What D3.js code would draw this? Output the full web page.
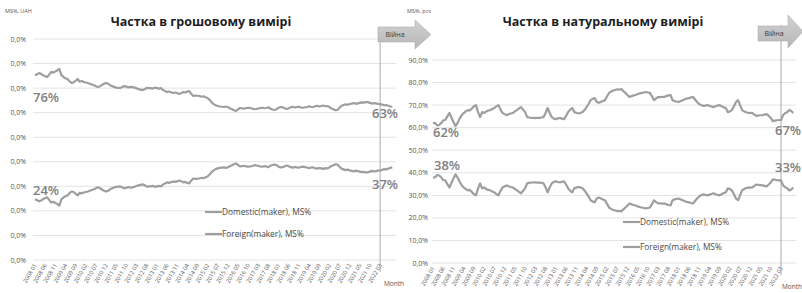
<!DOCTYPE html>
<html>
<head>
<meta charset="utf-8" />
<title>Частка вітчизняних та іноземних виробників</title>
<script src="https://d3js.org/d3.v7.min.js"></script>
<style>
  body { margin: 0; background: #fff; }
  svg { display: block; font-family: "Open Sans", sans-serif; }
</style>
</head>
<body>
<svg id="chart" width="802" height="293"></svg>
<script>
// months 2008 01 .. 2022 09
var months = d3.timeMonth.range(new Date(2008, 0, 1), new Date(2022, 9, 1)).map(d3.timeFormat("%Y %m"));

var tickLabels = ["2008 01","2008 06","2008 11","2009 04","2009 09","2010 02","2010 07","2010 12",
  "2011 05","2011 10","2012 03","2012 08","2013 01","2013 06","2013 11","2014 04","2014 09",
  "2015 02","2015 07","2015 12","2016 05","2016 10","2017 03","2017 08","2018 01","2018 06",
  "2018 11","2019 04","2019 09","2020 02","2020 07","2020 12","2021 05","2021 10","2022 03"];

var yTicks = [0, 10, 20, 30, 40, 50, 60, 70, 80, 90];
// the money chart shows broken labels in the source
var moneyYLabels = ["0,0%","0,0%","0,0%","0,0%","0,0%","0,0%","0,0%","0,0%","0,0%","0,0%"];
var unitsYLabels = ["0,0%","10,0%","20,0%","30,0%","40,0%","50,0%","60,0%","70,0%","80,0%","90,0%"];

var seriesNames = ["Domestic(maker), MS%", "Foreign(maker), MS%"];
var warMonth = "2022 03";
var warLabel = "Війна";

// share in money terms, %
var moneyDomestic = [
  75.3,75.6,76.1,75.8,75.2,74.8,74.5,75.5,76.6,76.3,
  76.8,77.2,77.8,75.3,74.6,74.0,73.7,72.8,72.1,72.3,
  73.0,73.7,72.6,72.9,72.5,72.3,72.1,71.8,71.5,71.2,
  70.8,70.4,70.8,71.3,71.8,72.1,71.8,71.2,70.8,70.5,
  70.2,70.1,70.0,70.5,70.8,70.6,70.3,70.5,70.4,70.2,
  69.9,69.6,69.4,69.2,69.5,70.1,70.0,70.0,69.8,70.2,
  70.0,69.8,70.0,69.3,68.8,68.4,68.6,68.3,68.0,68.2,
  68.0,67.6,67.9,68.4,68.2,68.6,68.8,67.6,66.8,67.0,
  66.9,66.8,66.5,66.7,66.3,66.0,65.2,64.2,63.5,63.0,
  62.7,62.5,62.4,62.3,62.5,62.2,61.8,61.4,61.0,60.7,
  61.3,61.9,61.8,61.6,61.9,62.0,61.9,61.7,61.4,61.5,
  61.7,61.9,62.0,61.8,61.9,62.2,61.6,61.3,61.1,61.4,
  62.0,62.3,62.2,61.8,61.5,61.8,62.2,62.4,62.1,62.3,
  62.4,62.1,62.0,62.2,62.3,62.6,62.3,62.3,62.6,62.8,
  62.5,62.7,62.9,62.6,62.7,62.3,61.7,61.4,61.0,61.1,
  62.0,62.8,63.1,63.4,63.2,63.5,63.7,63.9,63.6,63.8,
  64.0,64.2,64.1,64.3,64.3,64.0,63.7,63.9,63.8,63.6,
  63.5,63.3,63.0,63.1,62.8,62.5,62.3];
var moneyForeign = [
  24.7,24.4,23.9,24.2,24.8,25.2,25.5,24.5,23.4,23.7,
  23.2,22.8,22.2,24.7,25.4,26.0,26.3,27.2,27.9,27.7,
  27.0,26.3,27.4,27.1,27.5,27.7,27.9,28.2,28.5,28.8,
  29.2,29.6,29.2,28.7,28.2,27.9,28.2,28.8,29.2,29.5,
  29.8,29.9,30.0,29.5,29.2,29.4,29.7,29.5,29.6,29.8,
  30.1,30.4,30.6,30.8,30.5,29.9,30.0,30.0,30.2,29.8,
  30.0,30.2,30.0,30.7,31.2,31.6,31.4,31.7,32.0,31.8,
  32.0,32.4,32.1,31.6,31.8,31.4,31.2,32.4,33.2,33.0,
  33.1,33.2,33.5,33.3,33.7,34.0,34.8,35.8,36.5,37.0,
  37.3,37.5,37.6,37.7,37.5,37.8,38.2,38.6,39.0,39.3,
  38.7,38.1,38.2,38.4,38.1,38.0,38.1,38.3,38.6,38.5,
  38.3,38.1,38.0,38.2,38.1,37.8,38.4,38.7,38.9,38.6,
  38.0,37.7,37.8,38.2,38.5,38.2,37.8,37.6,37.9,37.7,
  37.6,37.9,38.0,37.8,37.7,37.4,37.7,37.7,37.4,37.2,
  37.5,37.3,37.1,37.4,37.3,37.7,38.3,38.6,39.0,38.9,
  38.0,37.2,36.9,36.6,36.8,36.5,36.3,36.1,36.4,36.2,
  36.0,35.8,35.9,35.7,35.7,36.0,36.3,36.1,36.2,36.4,
  36.5,36.7,37.0,36.9,37.2,37.5,37.7];

// share in natural terms (pcs), %
var unitsDomestic = [
  62.0,62.1,61.0,61.2,62.0,63.2,63.4,65.0,66.5,64.5,
  62.5,60.7,62.1,64.0,65.5,66.5,67.2,67.8,67.6,68.5,
  69.5,70.0,66.9,64.7,66.9,66.5,67.2,67.6,67.8,68.3,
  68.7,69.5,70.0,68.0,66.5,66.0,65.6,66.0,66.3,66.5,
  67.2,67.8,68.5,69.1,68.0,66.9,64.7,64.5,64.3,64.3,
  64.2,64.4,64.3,64.5,64.7,66.5,68.7,66.5,64.7,64.0,
  63.8,64.1,64.3,64.0,63.8,65.2,66.9,68.0,68.7,66.9,
  66.6,66.3,66.5,66.9,67.8,69.1,70.5,72.2,72.8,73.1,
  71.4,71.0,71.4,71.8,72.2,73.8,75.4,76.0,76.5,76.7,
  77.0,76.9,77.1,76.2,75.4,74.5,73.6,74.0,74.3,74.5,
  74.9,75.2,75.4,75.6,75.8,75.6,75.4,73.8,72.2,73.0,
  73.6,73.5,73.7,73.6,74.0,74.3,74.5,72.2,71.8,71.6,
  71.4,71.8,72.2,72.6,72.9,73.1,73.4,73.6,72.5,71.4,
  70.5,70.0,69.6,69.8,70.0,69.7,69.4,69.1,69.5,69.8,
  70.0,69.5,69.0,68.7,66.9,67.2,67.8,69.5,71.4,72.2,
  70.0,67.8,67.2,66.8,66.5,66.6,66.5,65.8,65.2,65.4,
  65.5,65.6,65.8,66.0,65.2,64.3,62.9,63.1,63.3,63.4,
  63.4,65.6,66.4,66.9,67.8,67.4,66.5];
var unitsForeign = [
  38.0,37.9,39.0,38.8,38.0,36.8,36.6,35.0,33.5,35.5,
  37.5,39.3,37.9,36.0,34.5,33.5,32.8,32.2,32.4,31.5,
  30.5,30.0,33.1,35.3,33.1,33.5,32.8,32.4,32.2,31.7,
  31.3,30.5,30.0,32.0,33.5,34.0,34.4,34.0,33.7,33.5,
  32.8,32.2,31.5,30.9,32.0,33.1,35.3,35.5,35.7,35.7,
  35.8,35.6,35.7,35.5,35.3,33.5,31.3,33.5,35.3,36.0,
  36.2,35.9,35.7,36.0,36.2,34.8,33.1,32.0,31.3,33.1,
  33.4,33.7,33.5,33.1,32.2,30.9,29.5,27.8,27.2,26.9,
  28.6,29.0,28.6,28.2,27.8,26.2,24.6,24.0,23.5,23.3,
  23.0,23.1,22.9,23.8,24.6,25.5,26.4,26.0,25.7,25.5,
  25.1,24.8,24.6,24.4,24.2,24.4,24.6,26.2,27.8,27.0,
  26.4,26.5,26.3,26.4,26.0,25.7,25.5,27.8,28.2,28.4,
  28.6,28.2,27.8,27.4,27.1,26.9,26.6,26.4,27.5,28.6,
  29.5,30.0,30.4,30.2,30.0,30.3,30.6,30.9,30.5,30.2,
  30.0,30.5,31.0,31.3,33.1,32.8,32.2,30.5,28.6,27.8,
  30.0,32.2,32.8,33.2,33.5,33.4,33.5,34.2,34.8,34.6,
  34.5,34.4,34.2,34.0,34.8,35.7,37.1,36.9,36.7,36.6,
  36.6,34.4,33.6,33.1,32.2,32.6,33.5];

var moneyNotes = ["76%", "24%", "63%", "37%"];
var unitsNotes = ["62%", "38%", "67%", "33%"];

var svg = d3.select("#chart");
var lineColor = "#9e9e9e";

function drawPanel(p) {
  var g = svg.append("g");
  var x = d3.scalePoint().domain(months).range([p.x0, p.x1]);
  var y = d3.scaleLinear().domain([0, 90]).range([p.yBottom, p.yTop]);

  // gridlines
  g.selectAll(".grid").data(yTicks).enter().append("line")
    .attr("x1", p.gridX0).attr("x2", p.gridX1)
    .attr("y1", function(d){ return y(d); }).attr("y2", function(d){ return y(d); })
    .attr("stroke", "#e3e3e3").attr("stroke-width", 1);

  // y labels
  g.selectAll(".ylab").data(yTicks).enter().append("text")
    .attr("x", p.yLabelX).attr("y", function(d){ return y(d) + 2.5; })
    .attr("text-anchor", "end").attr("font-size", 7).attr("fill", "#555")
    .text(function(d, i){ return p.yLabels[i]; });

  // x labels, rotated
  g.selectAll(".xlab").data(tickLabels).enter().append("text")
    .attr("transform", function(d){ return "translate(" + (x(d) + 2) + "," + (p.yBottom + 5) + ") rotate(-60)"; })
    .attr("text-anchor", "end").attr("font-size", 5.8).attr("fill", "#5a5a5a")
    .text(function(d){ return d; });

  g.append("text").attr("x", p.monthX).attr("y", p.yBottom + 26)
    .attr("font-size", 6.5).attr("fill", "#555").text("Month");

  // war line
  g.append("line")
    .attr("x1", x(warMonth)).attr("x2", x(warMonth))
    .attr("y1", p.warTop).attr("y2", p.yBottom + 12)
    .attr("stroke", "#aaa").attr("stroke-width", 1);

  var line = d3.line()
    .x(function(d, i){ return x(months[i]); })
    .y(function(d){ return y(d); });

  [p.domestic, p.foreign].forEach(function(s){
    g.append("path").datum(s).attr("d", line)
      .attr("fill", "none").attr("stroke", lineColor).attr("stroke-width", 2.2)
      .attr("stroke-linejoin", "round");
  });

  // titles
  g.append("text").attr("x", p.titleX).attr("y", 26).attr("text-anchor", "middle")
    .attr("font-size", 12.5).attr("font-weight", "bold").attr("fill", "#1e1e1e").text(p.title);
  g.append("text").attr("x", p.unitX).attr("y", 13)
    .attr("font-size", 5.5).attr("fill", "#555").text(p.unit);

  // legend
  seriesNames.forEach(function(n, i){
    g.append("line").attr("x1", p.legendX).attr("x2", p.legendX + 17)
      .attr("y1", p.legendY[i]).attr("y2", p.legendY[i])
      .attr("stroke", lineColor).attr("stroke-width", 2.2);
    g.append("text").attr("x", p.legendX + 17).attr("y", p.legendY[i] + 3)
      .attr("font-size", 8.3).attr("fill", "#4a4a4a").text(n);
  });

  // percentage notes
  p.notes.forEach(function(t, i){
    g.append("text").attr("x", p.notePos[i][0]).attr("y", p.notePos[i][1])
      .attr("font-size", 13).attr("font-weight", 600).attr("fill", "#808080").text(t);
  });
}

function drawArrow(a) {
  var pts = [[a.x, a.b0], [a.hx, a.b0], [a.hx, a.h0], [a.tip, (a.h0 + a.h1) / 2],
             [a.hx, a.h1], [a.hx, a.b1], [a.x, a.b1]];
  svg.append("path").attr("d", "M" + pts.join("L") + "Z")
    .attr("fill", "url(#arrowFill)").attr("stroke", "#b0b0b0").attr("stroke-width", 0.6);
  svg.append("text").attr("x", a.tx).attr("y", (a.b0 + a.b1) / 2 + 2.5)
    .attr("text-anchor", "middle").attr("font-size", 7).attr("fill", "#3a3a3a").text(warLabel);
}

var grad = svg.append("defs").append("linearGradient").attr("id", "arrowFill")
  .attr("x1", 0).attr("x2", 0).attr("y1", 0).attr("y2", 1);
grad.append("stop").attr("offset", "0%").attr("stop-color", "#d2d2d2");
grad.append("stop").attr("offset", "100%").attr("stop-color", "#b6b6b6");

drawPanel({
  title: "Частка в грошовому вимірі", titleX: 201, unit: "MS%, UAH", unitX: 5,
  x0: 35, x1: 392.3, yTop: 39, yBottom: 260, gridX0: 33, gridX1: 396,
  yLabelX: 26, yLabels: moneyYLabels, monthX: 384, warTop: 28,
  domestic: moneyDomestic, foreign: moneyForeign,
  legendX: 205, legendY: [212, 234],
  notes: moneyNotes, notePos: [[33, 102], [33, 195], [372, 118], [372, 189]]
});

drawPanel({
  title: "Частка в натуральному вимірі", titleX: 603, unit: "MS%, pcs", unitX: 407,
  x0: 433, x1: 793.3, yTop: 60, yBottom: 263, gridX0: 432, gridX1: 796,
  yLabelX: 428, yLabels: unitsYLabels, monthX: 782, warTop: 25,
  domestic: unitsDomestic, foreign: unitsForeign,
  legendX: 623, legendY: [222, 247],
  notes: unitsNotes, notePos: [[433, 137], [434, 170], [775, 135], [775, 172]]
});

drawArrow({ x: 378, hx: 415, tip: 431, b0: 27, b1: 42, h0: 20, h1: 49, tx: 395 });
drawArrow({ x: 758, hx: 788, tip: 803, b0: 26, b1: 41, h0: 15, h1: 48, tx: 774 });
</script>
</body>
</html>
